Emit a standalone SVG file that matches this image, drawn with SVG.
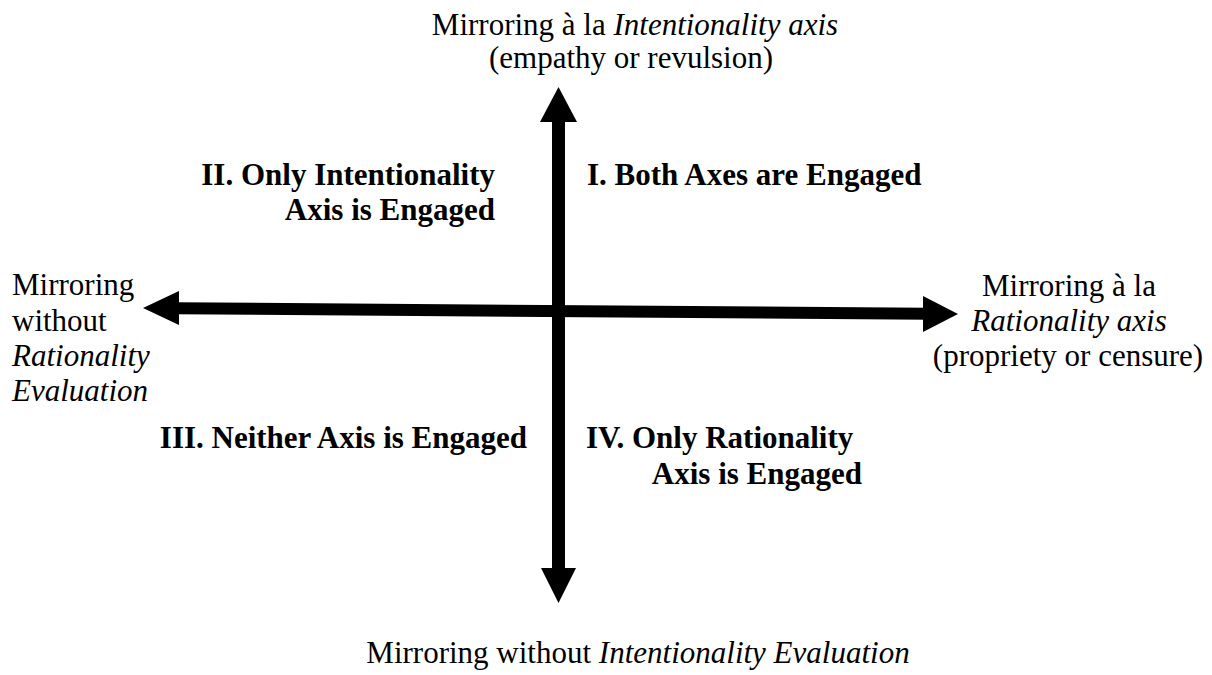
<svg xmlns="http://www.w3.org/2000/svg" width="1212" height="675" viewBox="0 0 1212 675">
<style>
.t{font-family:"Liberation Serif","Times New Roman",serif;font-size:31px;fill:#000}
.b{font-family:"Liberation Serif","Times New Roman",serif;font-size:31px;font-weight:bold;fill:#000}
.i{font-style:italic}
</style>
<rect width="1212" height="675" fill="#fff"/>
<g id="connectors">
<line x1="558.5" y1="118" x2="558.5" y2="572" stroke="#000" stroke-width="13"/>
<polygon points="558.5,87 540,122 577,122" fill="#000"/>
<polygon points="558.5,603 541,568 576,568" fill="#000"/>
<line x1="175" y1="308.2" x2="927" y2="313.8" stroke="#000" stroke-width="12"/>
<polygon points="143,308 179,291 179,325" fill="#000"/>
<polygon points="958,314 923,296 923,332" fill="#000"/>
</g>
<g id="top-label"><text class="t" x="635" y="35" text-anchor="middle">Mirroring à la <tspan class="i">Intentionality axis</tspan></text>
<text class="t" x="631" y="68" text-anchor="middle">(empathy or revulsion)</text></g>
<g id="left-label"><text class="t" x="12" y="295">Mirroring</text>
<text class="t" x="12" y="331">without</text>
<text class="t i" x="12" y="366">Rationality</text>
<text class="t i" x="12" y="401">Evaluation</text></g>
<g id="right-label"><text class="t" x="1069" y="296" text-anchor="middle">Mirroring à la</text>
<text class="t i" x="1069" y="331" text-anchor="middle">Rationality axis</text>
<text class="t" x="1068" y="366" text-anchor="middle">(propriety or censure)</text></g>
<g id="bottom-label"><text class="t" x="638" y="663" text-anchor="middle">Mirroring without <tspan class="i">Intentionality Evaluation</tspan></text></g>
<g id="q2"><text class="b" x="495" y="185" text-anchor="end">II. Only Intentionality</text>
<text class="b" x="495" y="220" text-anchor="end">Axis is Engaged</text></g>
<g id="q1"><text class="b" x="587" y="185">I. Both Axes are Engaged</text></g>
<g id="q3"><text class="b" x="527" y="448" text-anchor="end">III. Neither Axis is Engaged</text></g>
<g id="q4"><text class="b" x="586" y="448">IV. Only Rationality</text>
<text class="b" x="862" y="484" text-anchor="end">Axis is Engaged</text></g>
</svg>
